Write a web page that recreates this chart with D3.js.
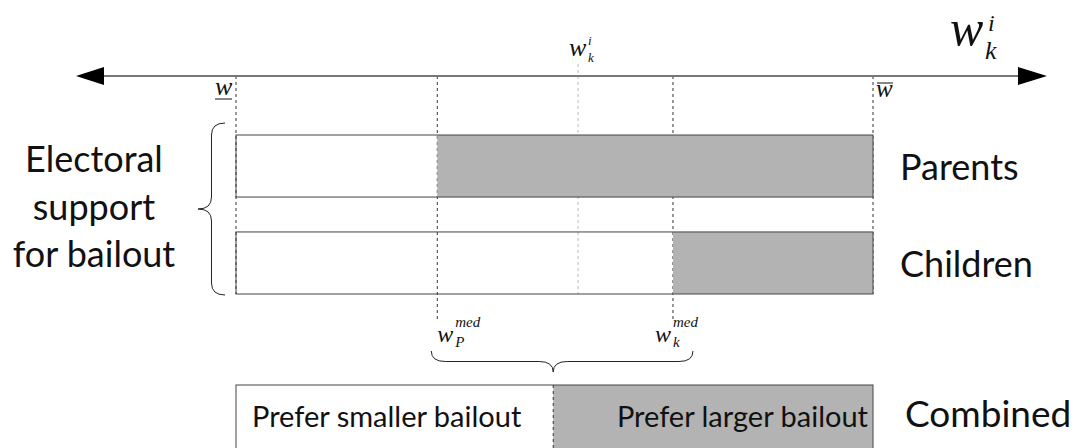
<!DOCTYPE html>
<html>
<head>
<meta charset="utf-8">
<script src="https://cdn.jsdelivr.net/npm/d3@7"></script>
<style>
  body { margin: 0; background: #fff; }
  .sans { font-family: Lato, "Open Sans", sans-serif; fill: #111; }
  .math { font-family: "Liberation Serif", "DejaVu Serif", serif; font-style: italic; fill: #111; }
</style>
</head>
<body>
<div class="diagram"></div>
<script>
// bailout size on [w_lower, w_upper], rescaled to 0..1
const bounds = [0, 1];
const wkI = 0.537;          // individual's preferred bailout
const groups = ["Parents", "Children"];
const groupMedian = [0.316, 0.686];   // w_P^med, w_k^med
const combinedSplit = 0.498;
const combinedLabels = ["Prefer smaller bailout", "Prefer larger bailout"];
const sideLabel = ["Electoral", "support", "for bailout"];

const width = 1082;
const height = 448;
const axisY = 76;

const x = d3.scaleLinear().domain(bounds).range([236, 873]);
const y = d3.scaleBand().domain(groups).range([135, 294]).paddingInner(0.36);

const svg = d3.select(".diagram")
  .append("svg")
  .attr("width", width)
  .attr("height", height);

/**
 * dashed guides from the axis down through the rows
 */
const guides = [
  { v: bounds[0], y2: y("Children") + y.bandwidth() },
  { v: groupMedian[0], y2: 320 },
  { v: groupMedian[1], y2: 320 },
  { v: bounds[1], y2: y("Children") + y.bandwidth() },
];
svg.selectAll("line.guide")
  .data(guides)
  .join("line")
  .attr("class", "guide")
  .attr("x1", d => x(d.v)).attr("x2", d => x(d.v))
  .attr("y1", axisY).attr("y2", d => d.y2)
  .attr("stroke", "#333")
  .attr("stroke-width", 1)
  .attr("stroke-dasharray", "3,3");

svg.append("line")
  .attr("x1", x(wkI)).attr("x2", x(wkI))
  .attr("y1", 64).attr("y2", y("Children") + y.bandwidth())
  .attr("stroke", "#bbb")
  .attr("stroke-width", 1)
  .attr("stroke-dasharray", "3,3");

// the axis with arrows on both ends
svg.append("line")
  .attr("x1", 104).attr("x2", 1018)
  .attr("y1", axisY).attr("y2", axisY)
  .attr("stroke", "#777")
  .attr("stroke-width", 2);
svg.append("path")
  .attr("d", `M76,${axisY} L104,${axisY - 9} L104,${axisY + 9} Z`)
  .attr("fill", "#000");
svg.append("path")
  .attr("d", `M1047,${axisY} L1018,${axisY - 9} L1018,${axisY + 9} Z`)
  .attr("fill", "#000");

// support bars for each group
const rows = svg.selectAll("g.row")
  .data(groups)
  .join("g")
  .attr("class", "row");

rows.append("rect")
  .attr("x", (d, i) => x(groupMedian[i]))
  .attr("y", d => y(d))
  .attr("width", (d, i) => x(bounds[1]) - x(groupMedian[i]))
  .attr("height", y.bandwidth())
  .attr("fill", "#b3b3b3");

rows.append("rect")
  .attr("x", x(bounds[0]))
  .attr("y", d => y(d))
  .attr("width", x(bounds[1]) - x(bounds[0]))
  .attr("height", y.bandwidth())
  .attr("fill", "none")
  .attr("stroke", "#444")
  .attr("stroke-width", 1);

rows.append("text")
  .attr("class", "sans")
  .attr("x", 900)
  .attr("y", d => y(d) + y.bandwidth() / 2 + 14)
  .attr("font-size", 36)
  .text(d => d);

// combined row
const combTop = 385;
svg.append("rect")
  .attr("x", x(combinedSplit)).attr("y", combTop)
  .attr("width", x(bounds[1]) - x(combinedSplit)).attr("height", 100)
  .attr("fill", "#b3b3b3");
svg.append("rect")
  .attr("x", x(bounds[0])).attr("y", combTop)
  .attr("width", x(bounds[1]) - x(bounds[0])).attr("height", 100)
  .attr("fill", "none")
  .attr("stroke", "#444")
  .attr("stroke-width", 1);
svg.append("line")
  .attr("x1", x(combinedSplit)).attr("x2", x(combinedSplit))
  .attr("y1", combTop).attr("y2", height)
  .attr("stroke", "#333")
  .attr("stroke-dasharray", "3,3");

svg.append("text").attr("class", "sans")
  .attr("x", x(bounds[0]) + 16).attr("y", 427)
  .attr("font-size", 29)
  .text(combinedLabels[0]);
svg.append("text").attr("class", "sans")
  .attr("x", x(bounds[1]) - 5).attr("y", 427)
  .attr("text-anchor", "end")
  .attr("font-size", 29)
  .text(combinedLabels[1]);
svg.append("text").attr("class", "sans")
  .attr("x", 905).attr("y", 427)
  .attr("font-size", 37)
  .text("Combined");

// left label
svg.selectAll("text.side")
  .data(sideLabel)
  .join("text")
  .attr("class", "sans side")
  .attr("x", 94)
  .attr("y", (d, i) => 172 + i * 47.5)
  .attr("text-anchor", "middle")
  .attr("font-size", 36)
  .text(d => d);

// curly braces
function vBrace(xr, y1, y2, depth) {
  const ym = (y1 + y2) / 2, xm = xr - depth / 2, r = 12;
  return `M${xr},${y1} Q${xm},${y1} ${xm},${y1 + r} L${xm},${ym - r} Q${xm},${ym} ${xr - depth},${ym}`
    + ` Q${xm},${ym} ${xm},${ym + r} L${xm},${y2 - r} Q${xm},${y2} ${xr},${y2}`;
}
function hBrace(x1, x2, xt, y0, depth) {
  const ym = y0 + depth / 2, r = 14;
  return `M${x1},${y0} Q${x1},${ym} ${x1 + r},${ym} L${xt - r},${ym} Q${xt},${ym} ${xt},${y0 + depth}`
    + ` Q${xt},${ym} ${xt + r},${ym} L${x2 - r},${ym} Q${x2},${ym} ${x2},${y0}`;
}
svg.append("path")
  .attr("d", vBrace(225, 123, 295, 27))
  .attr("fill", "none").attr("stroke", "#222").attr("stroke-width", 1);
svg.append("path")
  .attr("d", hBrace(x(groupMedian[0]) - 6, x(groupMedian[1]) + 20, x(combinedSplit), 351, 21))
  .attr("fill", "none").attr("stroke", "#222").attr("stroke-width", 1);

// math labels
function mathLabel(x0, base, main, size, sup, sub, supSize, dx, supDy, subDy) {
  const g = svg.append("g");
  g.append("text").attr("class", "math").attr("x", x0).attr("y", base)
    .attr("font-size", size).text(main);
  if (sup) g.append("text").attr("class", "math").attr("x", x0 + dx).attr("y", base + supDy)
    .attr("font-size", supSize).text(sup);
  if (sub) g.append("text").attr("class", "math").attr("x", x0 + dx).attr("y", base + subDy)
    .attr("font-size", supSize).text(sub);
  return g;
}

// lower and upper bounds
mathLabel(x(bounds[0]) - 21, 95, "w", 26);
svg.append("line").attr("x1", x(bounds[0]) - 21).attr("x2", x(bounds[0]) - 4)
  .attr("y1", 99).attr("y2", 99).attr("stroke", "#111");
mathLabel(x(bounds[1]) + 3, 97, "w", 25);
svg.append("line").attr("x1", x(bounds[1]) + 4).attr("x2", x(bounds[1]) + 20)
  .attr("y1", 83).attr("y2", 83).attr("stroke", "#111");

mathLabel(x(wkI) - 9, 56, "w", 26, "i", "k", 13, 19, -11, 6);
// large axis title
svg.append("text").attr("class", "math").attr("x", 950).attr("y", 45)
  .attr("font-size", 50).text("w");
svg.append("text").attr("class", "math").attr("x", 988).attr("y", 31)
  .attr("font-size", 24).text("i");
svg.append("text").attr("class", "math").attr("x", 985).attr("y", 59)
  .attr("font-size", 26).text("k");

mathLabel(x(groupMedian[0]), 342, "w", 24, "med", "P", 15, 18, -15, 5);
mathLabel(x(groupMedian[1]) - 18, 342, "w", 24, "med", "k", 15, 18, -15, 5);
</script>
</body>
</html>
